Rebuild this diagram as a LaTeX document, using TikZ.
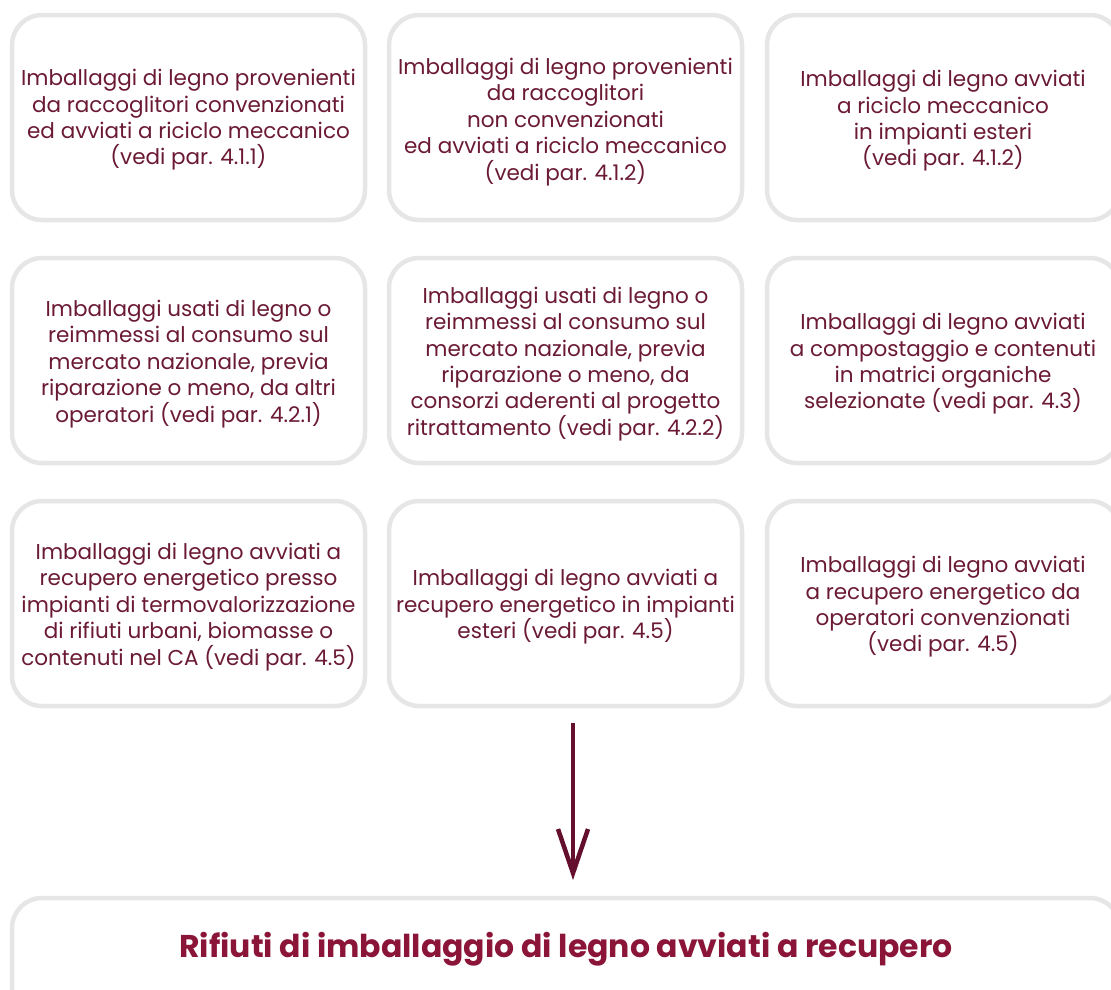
\documentclass[tikz,border=0pt]{standalone}
\usepackage{fontspec}
\setmainfont{Poppins}
\usetikzlibrary{arrows.meta}
\definecolor{boxgray}{HTML}{E6E6E6}
\definecolor{txt}{HTML}{6B1A33}
\definecolor{title}{HTML}{8B1538}
\definecolor{arr}{HTML}{650F2E}
\tikzset{
  card/.style={draw=boxgray, line width=4.5pt, rounded corners=30pt, fill=white},
  cardtext/.style={text=txt, align=center, font=\fontsize{21.5}{26.4}\selectfont, inner sep=0pt},
}
\begin{document}
\begin{tikzpicture}[x=1pt,y=-1pt]
\useasboundingbox (0,0) rectangle (1111,989);
\clip (0,0) rectangle (1111,989);
% boxes
\foreach \cx in {12,389,767}{
  \foreach \ry in {15,258,501}{
    \draw[card] (\cx,\ry) rectangle ++(353,205);
  }
}
\draw[card] (12,898) rectangle (1120,1100);
% texts
\node[cardtext] (a1) at (188.5,120) {Imballaggi di legno provenienti\\da raccoglitori convenzionati\\ed avviati a riciclo meccanico\\(vedi par. 4.1.1)};
\node[cardtext] (a2) at (565.5,122) {Imballaggi di legno provenienti\\da raccoglitori\\non convenzionati\\ed avviati a riciclo meccanico\\(vedi par. 4.1.2)};
\node[cardtext] (a3) at (943,121) {Imballaggi di legno avviati\\a riciclo meccanico\\in impianti esteri\\(vedi par. 4.1.2)};
\node[cardtext] (b1) at (188.5,364) {Imballaggi usati di legno o\\reimmessi al consumo sul\\mercato nazionale, previa\\riparazione o meno, da altri\\operatori (vedi par. 4.2.1)};
\node[cardtext] (b2) at (565.5,364) {Imballaggi usati di legno o\\reimmessi al consumo sul\\mercato nazionale, previa\\riparazione o meno, da\\consorzi aderenti al progetto\\ritrattamento (vedi par. 4.2.2)};
\node[cardtext] (b3) at (943,364) {Imballaggi di legno avviati\\a compostaggio e contenuti\\in matrici organiche\\selezionate (vedi par. 4.3)};
\node[cardtext] (c1) at (188.5,607) {Imballaggi di legno avviati a\\recupero energetico presso\\impianti di termovalorizzazione\\di rifiuti urbani, biomasse o\\contenuti nel CA (vedi par. 4.5)};
\node[cardtext] (c2) at (565.5,607) {Imballaggi di legno avviati a\\recupero energetico in impianti\\esteri (vedi par. 4.5)};
\node[cardtext] (c3) at (943,607) {Imballaggi di legno avviati\\a recupero energetico da\\operatori convenzionati\\(vedi par. 4.5)};
\node[text=title, font=\fontsize{31.5}{36}\selectfont\bfseries, inner sep=0pt] (res) at (566,949) {Rifiuti di imballaggio di legno avviati a recupero};
% arrow
\coordinate (as) at (573,723);
\coordinate (ae) at (573,880);
\draw[arr, line width=4.5pt, -{Straight Barb[length=44pt,width=30pt,line width=4.5pt]}] (as) -- (ae);
\end{tikzpicture}
\end{document}
